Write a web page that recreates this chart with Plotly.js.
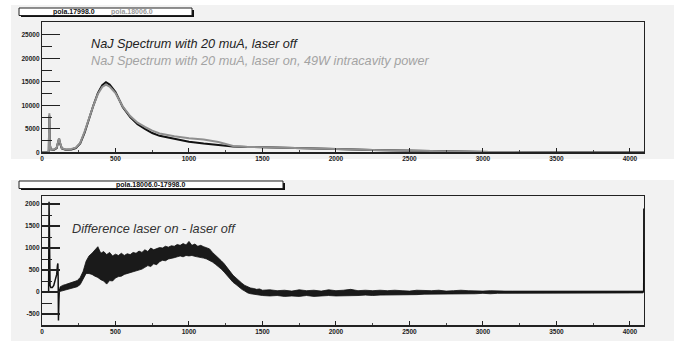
<!DOCTYPE html>
<html>
<head>
<meta charset="utf-8">
<script src="https://cdn.plot.ly/plotly-3.0.1.min.js"></script>
<style>html,body{margin:0;padding:0;background:#fff;}#chart{width:674px;height:345px;}</style>
</head>
<body>
<div id="chart"></div>
<script>
// ---- Top panel: NaJ spectra ----
var specX = [0, 40, 46, 50, 54, 60, 80, 100, 110, 116, 122, 135, 160, 200, 230, 260, 290, 320, 350, 380, 410, 435, 460, 500, 550, 600, 650, 700, 750, 800, 900, 1000, 1100, 1200, 1250, 1300, 1400, 1500, 1750, 2000, 2250, 2500, 2750, 3000, 3050, 3500, 4095];
var laserOff = [0, 0, 300, 7800, 1500, 600, 500, 900, 2200, 2900, 2000, 800, 550, 600, 900, 1900, 4200, 7200, 10000, 12600, 14300, 14900, 14400, 12800, 9600, 7500, 6000, 5000, 4100, 3500, 2800, 2250, 1850, 1500, 1350, 1250, 1150, 1050, 850, 700, 500, 350, 250, 150, 60, 30, 10];
var laserOn = [0, 0, 300, 8300, 1500, 650, 550, 1000, 2300, 3000, 2100, 850, 600, 700, 1000, 2000, 4400, 7300, 10000, 12400, 13900, 14400, 14000, 12600, 9700, 7700, 6300, 5400, 4600, 4000, 3400, 3000, 2700, 2200, 1700, 1350, 1150, 1050, 850, 700, 500, 350, 250, 150, 60, 30, 10];

// ---- Bottom panel: difference (laser on - laser off) ----
// low-channel part drawn as a line, plus the overflow bin at the end
var diffLineX = [0, 45, 48, 50, 52, 55, 60, 70, 80, 90, 100, 105, 108, 110, 112, 115, 118, 125, 130, null, 4090, 4094, 4095];
var diffLineY = [0, 0, 2050, 1200, 400, 150, 100, 100, 150, 250, 400, 600, 650, 300, -650, -200, 50, 80, 100, null, 0, 0, 1900];
// noisy band: channel, upper and lower envelope of the fluctuations
var diffX = [120, 140, 160, 180, 200, 220, 240, 260, 280, 300, 320, 340, 360, 380, 400, 420, 440, 460, 480, 500,
  520, 540, 560, 580, 600, 620, 640, 660, 680, 700, 720, 740, 760, 780, 800, 820, 840, 860, 880, 900,
  920, 940, 960, 980, 1000, 1020, 1040, 1060, 1080, 1100, 1120, 1140, 1160, 1180, 1200, 1220, 1240, 1260, 1280, 1300,
  1320, 1340, 1360, 1380, 1400, 1420, 1440, 1460, 1480, 1500,
  1550, 1600, 1650, 1700, 1750, 1800, 1850, 1900, 1950, 2000, 2050, 2100, 2150, 2200, 2250, 2300, 2350, 2400, 2450, 2500,
  2550, 2600, 2650, 2700, 2750, 2800, 2850, 2900, 2950, 3000, 3050, 3100, 3150, 3200, 3300, 3400, 3500, 3600, 3700, 3800, 3900, 4000, 4090];
var diffUpper = [110, 150, 170, 190, 220, 230, 260, 330, 470, 700, 820, 880, 960, 1030, 880, 920, 850, 900, 820, 860,
  830, 880, 830, 870, 850, 900, 880, 930, 900, 960, 920, 1000, 960, 990, 1010, 1000, 1040, 1020, 1050, 1040,
  1080, 1060, 1100, 1070, 1150, 1060, 1090, 1040, 1060, 1030, 1000, 980, 900, 840, 790, 710, 640, 550, 460, 380,
  320, 250, 200, 150, 120, 90, 80, 60, 70, 40,
  50, 30, 40, 20, 50, 30, 40, 20, 50, 30, 40, 60, 30, 40, 30, 40, 30, 40, 30, 20,
  40, 30, 30, 40, 20, 30, 40, 30, 20, 20, 30, 20, 20, 20, 20, 15, 20, 15, 20, 15, 20, 15, 20];
var diffLower = [10, 30, 50, 60, 90, 110, 120, 170, 280, 420, 420, 400, 360, 330, 280, 250, 180, 260, 250, 320,
  350, 360, 400, 420, 440, 450, 480, 490, 520, 560, 600, 580, 640, 620, 690, 720, 710, 750, 760, 780,
  800, 820, 800, 830, 820, 830, 810, 800, 790, 770, 750, 720, 680, 630, 580, 520, 450, 370, 300, 220,
  170, 110, 60, 20, -20, -40, -50, -70, -70, -80,
  -90, -80, -100, -90, -100, -80, -100, -90, -80, -90, -90, -80, -80, -70, -80, -70, -70, -60, -70, -60,
  -60, -50, -50, -50, -50, -50, -40, -40, -40, -30, -40, -30, -30, -30, -30, -25, -30, -25, -20, -25, -20, -25, -20];

var topTicks = [0, 5000, 10000, 15000, 20000, 25000];
var botTicks = [-500, 0, 500, 1000, 1500, 2000];
var xTicks = [0, 500, 1000, 1500, 2000, 2500, 3000, 3500, 4000];

var W = 674, H = 345;
function px(x) { return x / W; }
function py(y) { return 1 - y / H; }

var GRAY = '#8f8f8f';
var traces = [
  {x: specX, y: laserOff, type: 'scatter', mode: 'lines', line: {color: '#111', width: 2}, xaxis: 'x', yaxis: 'y', hoverinfo: 'skip'},
  {x: specX, y: laserOn, type: 'scatter', mode: 'lines', line: {color: GRAY, width: 2}, xaxis: 'x', yaxis: 'y', hoverinfo: 'skip'},
  {x: diffX, y: diffLower, type: 'scatter', mode: 'lines', line: {color: '#111', width: 0.8}, xaxis: 'x2', yaxis: 'y2', hoverinfo: 'skip'},
  {x: diffX, y: diffUpper, type: 'scatter', mode: 'lines', fill: 'tonexty', fillcolor: '#1a1a1a', line: {color: '#111', width: 0.8}, xaxis: 'x2', yaxis: 'y2', hoverinfo: 'skip'},
  {x: diffLineX, y: diffLineY, type: 'scatter', mode: 'lines', connectgaps: false, line: {color: '#111', width: 1.5}, xaxis: 'x2', yaxis: 'y2', hoverinfo: 'skip'}
];

var tickFont = {family: 'Liberation Sans, Arial, sans-serif', size: 6.5, color: '#222', weight: 'bold'};
function xAxis(anchor) {
  return {
    anchor: anchor, domain: [px(42), px(644)], range: [0, 4096], tickvals: xTicks, ticktext: xTicks.map(String),
    ticks: 'inside', ticklen: 4, tickwidth: 1, tickcolor: '#222',
    minor: {tickvals: [250, 750, 1250, 1750, 2250, 2750, 3250, 3750], ticks: 'inside', ticklen: 2, tickcolor: '#444', tickwidth: 1},
    showline: true, linecolor: '#222', linewidth: 1.2, mirror: true, showgrid: false, zeroline: false,
    tickfont: tickFont, fixedrange: true
  };
}
function yAxis(anchor, domain, range, tv, minorVals) {
  return {
    anchor: anchor, domain: domain, range: range, tickvals: tv, ticktext: tv.map(String),
    ticks: 'inside', ticklen: 18, tickwidth: 1.3, tickcolor: '#222',
    minor: {tickvals: minorVals, ticks: 'inside', ticklen: 10, tickcolor: '#222', tickwidth: 1},
    showline: true, linecolor: '#222', linewidth: 1.2, mirror: true, showgrid: false, zeroline: false,
    tickfont: tickFont, fixedrange: true
  };
}

var shapes = [
  // panel backgrounds
  {type: 'rect', xref: 'paper', yref: 'paper', x0: px(11), x1: 1, y0: py(159), y1: py(5), fillcolor: '#f2f2f2', line: {width: 0}, layer: 'below'},
  {type: 'rect', xref: 'paper', yref: 'paper', x0: px(11), x1: 1, y0: py(341), y1: py(180), fillcolor: '#f2f2f2', line: {width: 0}, layer: 'below'},
  // legend boxes (shadow + box)
  {type: 'rect', xref: 'paper', yref: 'paper', x0: px(21), x1: px(194), y0: py(17), y1: py(10), fillcolor: '#111', line: {width: 0}},
  {type: 'rect', xref: 'paper', yref: 'paper', x0: px(19), x1: px(192), y0: py(15.5), y1: py(8), fillcolor: '#fff', line: {color: '#222', width: 1}},
  {type: 'rect', xref: 'paper', yref: 'paper', x0: px(21), x1: px(285), y0: py(190), y1: py(183), fillcolor: '#111', line: {width: 0}},
  {type: 'rect', xref: 'paper', yref: 'paper', x0: px(19), x1: px(283), y0: py(188.5), y1: py(181), fillcolor: '#fff', line: {color: '#222', width: 1}}
];

var titleFont = {family: 'Liberation Sans, Arial, sans-serif', size: 12.7, style: 'italic'};
var legFont = 'Liberation Sans, Arial, sans-serif';
var annotations = [
  {xref: 'paper', yref: 'paper', x: px(74), y: py(11.8), text: 'pola.17998.0', showarrow: false, xanchor: 'center', yanchor: 'middle', font: {family: legFont, size: 7, color: '#111', weight: 'bold'}},
  {xref: 'paper', yref: 'paper', x: px(132), y: py(11.8), text: 'pola.18006.0', showarrow: false, xanchor: 'center', yanchor: 'middle', font: {family: legFont, size: 7, color: '#999', weight: 'bold'}},
  {xref: 'paper', yref: 'paper', x: px(150), y: py(184.8), text: 'pola.18006.0-17998.0', showarrow: false, xanchor: 'center', yanchor: 'middle', font: {family: legFont, size: 7, color: '#111', weight: 'bold'}},
  {xref: 'paper', yref: 'paper', x: px(89), y: py(44), text: 'NaJ Spectrum with 20 muA, laser off', showarrow: false, xanchor: 'left', yanchor: 'middle', font: Object.assign({color: '#222'}, titleFont)},
  {xref: 'paper', yref: 'paper', x: px(89), y: py(60.5), text: 'NaJ Spectrum with 20 muA, laser on, 49W intracavity power', showarrow: false, xanchor: 'left', yanchor: 'middle', font: Object.assign({color: '#a3a3a3'}, titleFont)},
  {xref: 'paper', yref: 'paper', x: px(70), y: py(228.5), text: 'Difference laser on - laser off', showarrow: false, xanchor: 'left', yanchor: 'middle', font: Object.assign({color: '#333'}, titleFont)}
];

var layout = {
  width: W, height: H, margin: {l: 0, r: 0, t: 0, b: 0},
  paper_bgcolor: '#ffffff', plot_bgcolor: 'rgba(0,0,0,0)', showlegend: false,
  xaxis: xAxis('y'),
  yaxis: yAxis('x', [py(152.3), py(22.3)], [0, 27660], topTicks, [2500, 7500, 12500, 17500, 22500, 27500]),
  xaxis2: xAxis('y2'),
  yaxis2: yAxis('x2', [py(325.3), py(195.7)], [-757, 2189], botTicks, [-750, -250, 250, 750, 1250, 1750]),
  shapes: shapes, annotations: annotations
};

Plotly.newPlot('chart', traces, layout, {staticPlot: true, displayModeBar: false});
</script>
</body>
</html>
